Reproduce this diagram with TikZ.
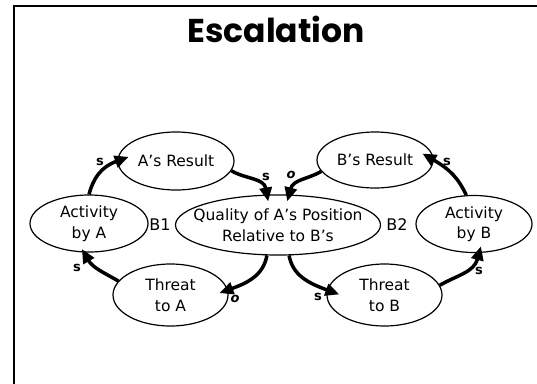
\documentclass[tikz,border=0pt]{standalone}
\usepackage{fontspec}
\setmainfont{DejaVu Sans}
\newfontfamily\titlefont{Poppins}
\usetikzlibrary{shapes.geometric,arrows.meta}
\begin{document}
\begin{tikzpicture}[x=1pt,y=-1pt,
  var/.style={ellipse,draw,line width=1.2pt,inner sep=-18pt,align=center,
    font=\fontsize{15.5}{20.5}\selectfont},
  link/.style={line width=3.5pt,-{Triangle[length=14pt,width=12pt]}},
  pol/.style={font=\bfseries\fontsize{13}{13}\selectfont,inner sep=0pt},
  loopname/.style={font=\fontsize{16}{16}\selectfont,inner sep=0pt}]
\useasboundingbox (0,0) rectangle (537,383);
\draw[line width=2pt] (14,384) -- (14,6) -- (538,6);
\node[font=\titlefont\bfseries\fontsize{33}{33}\selectfont] (title) at (276,29) {Escalation};

\node[var,minimum width=116pt,minimum height=58pt] (resA) at (176,161) {A's Result};
\node[var,minimum width=118pt,minimum height=57pt] (actA) at (89,223.5) {Activity\\by A};
\node[var,minimum width=205pt,minimum height=60pt] (qual) at (278,225) {Quality of A's Position\\Relative to B's};
\node[var,minimum width=116pt,minimum height=56pt] (resB) at (375,160) {B's Result};
\node[var,minimum width=116pt,minimum height=57pt] (actB) at (474,224) {Activity\\by B};
\node[var,minimum width=115pt,minimum height=62pt] (thrA) at (170.5,295) {Threat\\to A};
\node[var,minimum width=115pt,minimum height=62pt] (thrB) at (384.5,295) {Threat\\to B};

\draw[link,shorten >=-12pt] (actA.north) to[out=75,in=200] (resA.west);
\draw[link,shorten >=-7pt] (resA.-10) to[out=-30,in=100] (qual.110);
\draw[link,shorten >=-7pt] (resB.192) to[out=210,in=75] (qual.70);
\draw[link,shorten >=-13pt] (actB.105) to[out=115,in=330] (resB.east);
\draw[link,shorten >=-9pt] (qual.250) to[out=260,in=20] (thrA.5);
\draw[link,shorten >=-13pt] (qual.290) to[out=280,in=160] (thrB.175);
\draw[link,shorten >=-4pt] (thrA.165) to[out=150,in=300] (actA.260);
\draw[link,shorten >=-7pt] (thrB.10) to[out=30,in=255] (actB.280);

\node[pol] (s1) at (100,162) {s};
\node[pol] (s2) at (266,177) {s};
\node[pol] (o1) at (291,175) {\itshape o};
\node[pol] (s3) at (447,162) {s};
\node[pol] (s4) at (479,271) {s};
\node[pol] (s5) at (318,297) {s};
\node[pol] (o2) at (235,299) {\itshape o};
\node[pol] (s6) at (77,268) {s};
\node[loopname] (b1) at (160,225) {B1};
\node[loopname] (b2) at (397,225) {B2};
\end{tikzpicture}
\end{document}
